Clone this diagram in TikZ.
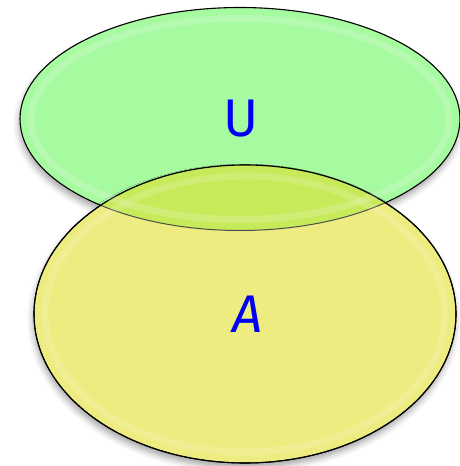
\documentclass[tikz,border=0pt]{standalone}
\usepackage{fontspec}
\setsansfont{Fira Sans}
\usetikzlibrary{shapes.geometric}
\usetikzlibrary{shadows.blur}
\definecolor{greenU}{RGB}{166,250,160}
\definecolor{yellowA}{RGB}{237,236,128}
\definecolor{mixUA}{RGB}{198,234,90}
\definecolor{letter}{RGB}{0,0,245}

\begin{document}
\begin{tikzpicture}[x=1pt, y=-1pt,
    set/.style={ellipse, draw=black, line width=1.1pt, inner sep=0pt,
      blur shadow={shadow xshift=-1pt, shadow yshift=-5pt, shadow blur radius=6pt, shadow opacity=35}},
    lbl/.style={font=\sffamily\fontsize{53}{53}\selectfont, text=letter, inner sep=0pt}]
        % Define the size of the two sets
        \def\uw{440pt}
        \def\uh{223pt}
        \def\aw{422pt}
        \def\ah{298pt}

        \useasboundingbox (0,0) rectangle (460,466);

        % Draw the two sets
        \node[set, fill=greenU, minimum width=\uw, minimum height=\uh] (U) at (240,119) {};
        \node[set, fill=yellowA, minimum width=\aw, minimum height=\ah] (A) at (245,314) {};

        % Overlap of the two sets
        \begin{scope}
          \clip (A.center) ellipse [x radius=0.5*\aw, y radius=0.5*\ah];
          \fill[mixUA] (U.center) ellipse [x radius=0.5*\uw, y radius=0.5*\uh];
          \draw[black!70, line width=1pt] (U.center) ellipse [x radius=0.5*\uw, y radius=0.5*\uh];
        \end{scope}
        \draw[black, line width=1.1pt] (A.center) ellipse [x radius=0.5*\aw, y radius=0.5*\ah];

        % Soft glossy rim inside each set
        \draw[white, opacity=0.18, line width=7pt] (U.center) ellipse [x radius=0.5*\uw-11pt, y radius=0.5*\uh-11pt];
        \draw[white, opacity=0.15, line width=7pt] (A.center) ellipse [x radius=0.5*\aw-11pt, y radius=0.5*\ah-11pt];

        % Labels
        \node[lbl] (uname) at (241,119) {U};
        \node[lbl] (aname) at (248,314) {\itshape A};
\end{tikzpicture}
\end{document}
